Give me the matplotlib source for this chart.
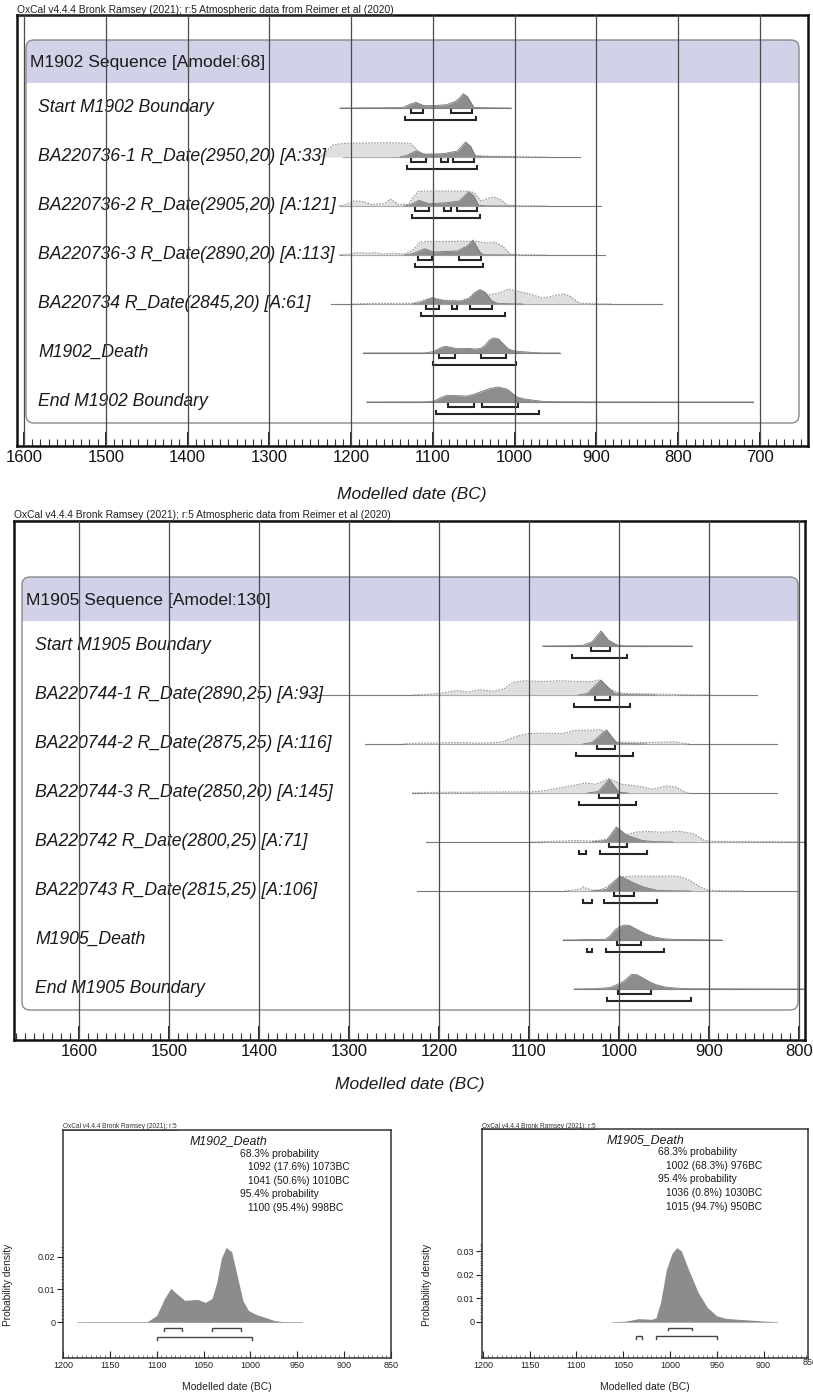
import matplotlib.pyplot as plt
import matplotlib.transforms as mtransforms
from matplotlib.patches import FancyBboxPatch, Rectangle
from matplotlib.lines import Line2D
from matplotlib.ticker import MultipleLocator, FixedLocator
import numpy as np

plt.rcParams['font.family'] = ['Liberation Sans', 'DejaVu Sans']

# ---------------- data ----------------
oxcal_head = 'OxCal v4.4.4 Bronk Ramsey (2021); r:5 Atmospheric data from Reimer et al (2020)'
oxcal_small = 'OxCal v4.4.4 Bronk Ramsey (2021); r:5'

title1902 = 'M1902 Sequence [Amodel:68]'
labels1902 = ['Start M1902 Boundary',
              'BA220736-1 R_Date(2950,20) [A:33]',
              'BA220736-2 R_Date(2905,20) [A:121]',
              'BA220736-3 R_Date(2890,20) [A:113]',
              'BA220734 R_Date(2845,20) [A:61]',
              'M1902_Death',
              'End M1902 Boundary']

title1905 = 'M1905 Sequence [Amodel:130]'
labels1905 = ['Start M1905 Boundary',
              'BA220744-1 R_Date(2890,25) [A:93]',
              'BA220744-2 R_Date(2875,25) [A:116]',
              'BA220744-3 R_Date(2850,20) [A:145]',
              'BA220742 R_Date(2800,25) [A:71]',
              'BA220743 R_Date(2815,25) [A:106]',
              'M1905_Death',
              'End M1905 Boundary']

# M1902_Death / M1905_Death densities (year BC, probability density)
death1902_yr = [1185, 1110, 1100, 1092, 1085, 1078, 1070, 1062, 1056, 1048, 1041, 1036, 1031,
                1026, 1020, 1014, 1008, 1002, 993, 985, 975, 965, 945]
death1902_p = [0, 0.0001, 0.002, 0.007, 0.0103, 0.0085, 0.0066, 0.0068, 0.0069, 0.006, 0.0072,
               0.012, 0.0195, 0.0228, 0.0215, 0.014, 0.0065, 0.0035, 0.0022, 0.0015, 0.0005,
               0.0001, 0]
death1905_yr = [1062, 1048, 1040, 1034, 1028, 1020, 1015, 1010, 1004, 998, 993, 988, 980, 970,
                960, 950, 940, 930, 915, 900, 886]
death1905_p = [0, 0.0002, 0.0008, 0.0013, 0.0012, 0.001, 0.0017, 0.0085, 0.022, 0.029, 0.0315,
               0.0302, 0.022, 0.0125, 0.006, 0.0025, 0.0014, 0.0011, 0.0007, 0.0003, 0]

stats1902 = ['68.3% probability', '1092 (17.6%) 1073BC', '1041 (50.6%) 1010BC',
             '95.4% probability', '1100 (95.4%) 998BC']
stats1905 = ['68.3% probability', '1002 (68.3%) 976BC', '95.4% probability',
             '1036 (0.8%) 1030BC', '1015 (94.7%) 950BC']

# relative heights (peak = 1)
range1902 = [(1214, 1005), (1210, 920), (1213, 895), (1213, 889), (1225, 820), (1185, 945), (1181, 708)]
light1902 = [
    None,
    [(1240, 0), (1232, 0.3), (1222, 0.8), (1210, 0.9), (1190, 0.93), (1160, 0.95), (1135, 0.93),
     (1127, 0.9), (1119, 0.45), (1112, 0.2), (1095, 0.17), (1075, 0.2), (1060, 0.3), (1048, 0.1),
     (1030, 0.05), (1000, 0.03), (960, 0)],
    [(1215, 0), (1205, 0.1), (1197, 0.33), (1185, 0.3), (1175, 0.1), (1160, 0.15), (1152, 0.45),
     (1142, 0.1), (1130, 0.1), (1124, 0.6), (1118, 0.97), (1100, 1.0), (1080, 1.0), (1060, 1.0),
     (1050, 0.9), (1041, 0.33), (1033, 0.5), (1026, 0.6), (1018, 0.45), (1009, 0.05), (990, 0.02),
     (960, 0)],
    [(1215, 0), (1200, 0.08), (1193, 0.16), (1180, 0.12), (1170, 0.15), (1160, 0.06), (1150, 0.12),
     (1135, 0.06), (1125, 0.3), (1115, 0.87), (1100, 0.9), (1080, 0.9), (1060, 0.92), (1045, 0.9),
     (1034, 0.8), (1025, 0.87), (1015, 0.6), (1005, 0.05), (990, 0.02), (960, 0)],
    [(1200, 0), (1170, 0.04), (1125, 0.05), (1115, 0.2), (1101, 0.42), (1087, 0.25), (1066, 0.22),
     (1056, 0.4), (1048, 0.8), (1042, 0.95), (1034, 0.6), (1026, 0.65), (1017, 0.78), (1008, 1.0),
     (997, 0.85), (981, 0.67), (966, 0.38), (952, 0.55), (940, 0.67), (932, 0.5), (921, 0.06),
     (905, 0.02), (880, 0)],
    None,
    None,
]
dark1902 = [
    [(1214, 0), (1150, 0.02), (1137, 0.03), (1128, 0.25), (1121, 0.38), (1111, 0.16), (1099, 0.16),
     (1083, 0.22), (1072, 0.45), (1066, 0.75), (1063, 0.95), (1058, 0.78), (1050, 0.05), (1041, 0.02),
     (1005, 0)],
    [(1140, 0), (1132, 0.1), (1121, 0.4), (1110, 0.18), (1087, 0.22), (1070, 0.4), (1060, 1.0),
     (1054, 0.73), (1048, 0.07), (1040, 0.02), (1000, 0)],
    [(1135, 0), (1127, 0.1), (1117, 0.38), (1105, 0.15), (1083, 0.22), (1068, 0.33), (1056, 0.95),
     (1050, 0.67), (1044, 0.05), (1035, 0.01), (1000, 0)],
    [(1135, 0), (1124, 0.1), (1110, 0.42), (1099, 0.2), (1070, 0.27), (1058, 0.6), (1051, 1.0),
     (1042, 0.15), (1038, 0.02), (1000, 0)],
    [(1125, 0), (1115, 0.1), (1101, 0.4), (1087, 0.22), (1066, 0.18), (1056, 0.33), (1048, 0.78),
     (1042, 0.95), (1036, 0.78), (1028, 0.22), (1021, 0.05), (1010, 0.02), (990, 0)],
    list(zip(death1902_yr, np.array(death1902_p) / max(death1902_p))),
    [(1181, 0), (1110, 0.01), (1099, 0.05), (1090, 0.3), (1083, 0.45), (1070, 0.42), (1058, 0.4),
     (1048, 0.55), (1038, 0.75), (1030, 0.9), (1020, 1.0), (1009, 0.85), (997, 0.33), (988, 0.2),
     (976, 0.11), (965, 0.04), (950, 0.02), (900, 0.005), (708, 0)],
]
hpd68_1902 = [[(1127, 1112), (1078, 1052)], [(1127, 1109), (1090, 1081), (1075, 1050)],
              [(1122, 1105), (1086, 1078), (1070, 1046)], [(1118, 1101), (1068, 1041)],
              [(1109, 1092), (1077, 1071), (1055, 1028)], [(1092, 1073), (1041, 1010)],
              [(1082, 1050), (1040, 996)]]
hpd95_1902 = [[(1134, 1047)], [(1132, 1046)], [(1126, 1042)], [(1122, 1039)], [(1114, 1012)],
              [(1100, 998)], [(1096, 970)]]

range1905 = [(1085, 919), (1350, 847), (1282, 825), (1230, 825), (1215, 795), (1225, 800),
             (1062, 886), (1050, 780)]
light1905 = [
    None,
    [(1230, 0), (1210, 0.05), (1195, 0.15), (1180, 0.3), (1168, 0.2), (1155, 0.35), (1140, 0.25),
     (1128, 0.4), (1118, 0.85), (1105, 0.95), (1085, 0.9), (1065, 0.95), (1045, 0.9), (1030, 0.9),
     (1022, 1.0), (1010, 0.4), (1000, 0.15), (990, 0.1), (970, 0.08), (950, 0.05), (930, 0.02), (900, 0)],
    [(1240, 0), (1228, 0.05), (1200, 0.07), (1180, 0.1), (1160, 0.06), (1140, 0.08), (1129, 0.15),
     (1115, 0.5), (1100, 0.7), (1080, 0.72), (1062, 0.7), (1050, 0.9), (1035, 0.92), (1020, 0.95),
     (1010, 0.5), (1003, 0.13), (990, 0.12), (970, 0.1), (950, 0.12), (939, 0.15), (930, 0.06), (922, 0)],
    [(1230, 0), (1200, 0.05), (1170, 0.05), (1140, 0.07), (1110, 0.07), (1090, 0.1), (1078, 0.2),
     (1065, 0.35), (1054, 0.47), (1037, 0.67), (1026, 0.58), (1011, 0.95), (997, 0.58), (980, 0.47),
     (962, 0.25), (948, 0.47), (937, 0.4), (928, 0.1), (922, 0)],
    [(1100, 0), (1065, 0.05), (1050, 0.1), (1030, 0.07), (1020, 0.12), (1005, 0.3), (992, 0.5),
     (980, 0.67), (968, 0.7), (951, 0.65), (933, 0.72), (917, 0.55), (905, 0.1), (895, 0.04),
     (860, 0.03), (820, 0.02), (795, 0.01)],
    [(1060, 0), (1045, 0.1), (1040, 0.27), (1030, 0.05), (1020, 0.08), (1013, 0.3), (999, 0.93),
     (984, 1.0), (960, 0.98), (940, 1.0), (932, 0.95), (921, 0.7), (910, 0.27), (901, 0.05),
     (890, 0.02), (860, 0)],
    None,
    None,
]
dark1905 = [
    [(1085, 0), (1050, 0.02), (1040, 0.05), (1030, 0.28), (1020, 1.0), (1012, 0.4), (1004, 0.13),
     (1000, 0.03), (990, 0.01), (919, 0)],
    [(1045, 0), (1035, 0.1), (1027, 0.6), (1020, 1.0), (1012, 0.5), (1005, 0.1), (995, 0.03),
     (980, 0.01), (960, 0)],
    [(1040, 0), (1030, 0.1), (1014, 0.95), (1003, 0.11), (995, 0.03), (970, 0)],
    [(1035, 0), (1023, 0.1), (1011, 0.92), (1000, 0.05), (990, 0)],
    [(1030, 0), (1014, 0.1), (1003, 1.0), (991, 0.45), (974, 0.1), (960, 0.02), (940, 0)],
    [(1030, 0), (1014, 0.1), (999, 1.0), (984, 0.55), (973, 0.27), (958, 0.05), (945, 0.02), (920, 0)],
    list(zip(death1905_yr, np.array(death1905_p) / max(death1905_p))),
    [(1050, 0), (1025, 0.02), (1010, 0.1), (1002, 0.3), (995, 0.5), (986, 0.98), (980, 0.95),
     (973, 0.72), (965, 0.45), (958, 0.27), (950, 0.15), (943, 0.09), (930, 0.04), (920, 0.02),
     (880, 0.01), (780, 0)],
]
hpd68_1905 = [[(1031, 1010)], [(1027, 1010)], [(1024, 1005)], [(1022, 1001)], [(1011, 991)],
              [(1006, 983)], [(1002, 976)], [(1001, 964)]]
hpd95_1905 = [[(1052, 991)], [(1050, 988)], [(1048, 985)], [(1045, 981)],
              [(1044, 1037), (1021, 969)], [(1040, 1030), (1017, 958)],
              [(1036, 1030), (1015, 950)], [(1013, 920)]]

# ---------------- figure ----------------
W, H = 813, 1395
fig = plt.figure(figsize=(W / 100, H / 100), dpi=100)
ROW = 49.0  # px per row


def px_axes(x0, y0, x1, y1):
    return fig.add_axes([x0 / W, 1 - y1 / H, (x1 - x0) / W, (y1 - y0) / H])


def fx(x):
    return x / W


def fy(y):
    return 1 - y / H


def underline(t):
    fig.canvas.draw()
    bb = t.get_window_extent()
    fig.add_artist(Line2D([bb.x0, bb.x1], [bb.y0 + 0.5, bb.y0 + 0.5], color='#333',
                          lw=0.5, transform=mtransforms.IdentityTransform()))


def bracket(ax, lo, hi, y, t, **kw):
    ax.plot([lo, lo, hi, hi], [y - t, y, y, y - t], solid_joinstyle='miter', **kw)


def seq_panel(frame, box, band_bottom, base0, xlim, ticks, title, labels, label_x,
              ranges, light, dark, h68, h95):
    x0, y0, x1, y1 = frame
    ax = px_axes(x0, y0, x1, y1)
    ax.patch.set_alpha(0)
    ax.set_xlim(*xlim)
    ax.set_ylim((y1 - base0) / ROW, (y0 - base0) / ROW)
    ax.set_yticks([])
    for s in ax.spines.values():
        s.set_linewidth(1.8)
        s.set_color('#111')
    ax.xaxis.set_major_locator(FixedLocator(ticks))
    ax.xaxis.set_minor_locator(MultipleLocator(10))
    ax.tick_params(axis='x', which='major', direction='in', length=10, width=1.3,
                   labelsize=12, pad=3, colors='#111')
    ax.tick_params(axis='x', which='minor', direction='in', length=5, width=0.8, colors='#333')
    for t in ticks:
        ax.axvline(t, color='#4a4a4a', lw=0.9, zorder=6)

    bx0, by0, bx1, by1 = box
    inch = fig.dpi_scale_trans
    # lavender header band
    ax.add_patch(FancyBboxPatch((bx0 / 100, (H - band_bottom) / 100), (bx1 - bx0) / 100,
                                (band_bottom - by0) / 100, boxstyle='round,pad=0,rounding_size=0.08',
                                transform=inch, facecolor='#d1d1e8', edgecolor='none', zorder=1))
    ax.add_patch(Rectangle((bx0 / 100, (H - band_bottom) / 100), (bx1 - bx0) / 100, 0.12,
                           transform=inch, facecolor='#d1d1e8', edgecolor='none', zorder=1))
    ax.add_patch(FancyBboxPatch((bx0 / 100, (H - by1) / 100), (bx1 - bx0) / 100, (by1 - by0) / 100,
                                boxstyle='round,pad=0,rounding_size=0.08', transform=inch,
                                facecolor='none', edgecolor='#8a8a8a', lw=1.0, zorder=1.5))
    ax.text(fx(bx0 + 4), fy((by0 + band_bottom) / 2 + 1), title, transform=fig.transFigure,
            fontsize=12.6, color='#1a1a1a', va='center', ha='left', zorder=4)

    hs = 15 / ROW
    blend = mtransforms.blended_transform_factory(fig.transFigure, ax.transData)
    for i, lab in enumerate(labels):
        ax.text(fx(label_x), i - 0.5 / ROW, lab, transform=blend, fontsize=12.7, style='italic',
                color='#1a1a1a', va='center', ha='left', zorder=4)
        ax.plot(ranges[i], [i, i], color='#7a7a7a', lw=0.8, zorder=2)
        if light[i] is not None:
            yr, h = zip(*light[i])
            top = i - np.array(h) * hs
            ax.fill_between(yr, i, top, color='#dfdfdf', lw=0, zorder=2.2)
            ax.plot(yr, top, color='#939393', lw=0.8, ls=(0, (1.5, 1.2)), zorder=2.3)
        yr, h = zip(*dark[i])
        top = i - np.array(h) * hs
        ax.fill_between(yr, i, top, color='#8d8d8d', lw=0, zorder=3)
        ax.plot(yr, top, color='#777', lw=0.6, zorder=3.1)
        for lo, hi in h68[i]:
            bracket(ax, lo, hi, i + 5 / ROW, 3 / ROW, color='#262626', lw=1.5, zorder=3.5)
        for lo, hi in h95[i]:
            bracket(ax, lo, hi, i + 12 / ROW, 3 / ROW, color='#262626', lw=1.5, zorder=3.5)
    return ax


# top sequence panel
seq_panel((17, 15, 808, 446), (26, 40, 799, 423), 83, 108,
          (1600 + 7 / 0.817, 700 - 48 / 0.817), list(range(700, 1601, 100)),
          title1902, labels1902, 38, range1902, light1902, dark1902, hpd68_1902, hpd95_1902)
t = fig.text(fx(17), fy(10), oxcal_head, fontsize=7.4, color='#222', va='center', ha='left')
underline(t)
fig.text(fx(412), fy(494), 'Modelled date (BC)', fontsize=12.5, style='italic', color='#1a1a1a',
         ha='center', va='center')

# second sequence panel
seq_panel((14, 521, 805, 1040), (22, 577, 798, 1010), 621, 646,
          (1000 + 605 / 0.9, 1000 - 186 / 0.9), list(range(800, 1601, 100)),
          title1905, labels1905, 35, range1905, light1905, dark1905, hpd68_1905, hpd95_1905)
t = fig.text(fx(14), fy(515), oxcal_head, fontsize=7.4, color='#222', va='center', ha='left')
underline(t)
fig.text(fx(410), fy(1085), 'Modelled date (BC)', fontsize=12.5, style='italic', color='#1a1a1a',
         ha='center', va='center')


# small probability panels
def prob_panel(frame, xlim, ylim, yticks, yrs, dens, h68, h95, y68, y95, ymax, name, stats,
               title_xy, stat_x, stat_y):
    x0, y0, x1, y1 = frame
    ax = px_axes(x0, y0, x1, y1)
    ax.set_xlim(*xlim)
    ax.set_ylim(*ylim)
    for s in ax.spines.values():
        s.set_linewidth(1.1)
        s.set_color('#333')
    ax.fill_between(yrs, 0, dens, color='#8c8c8c', lw=0, zorder=2)
    ax.plot([yrs[0], yrs[-1]], [0, 0], color='#aaa', lw=0.6, zorder=1.5)
    tick_h = 0.0008 * (ylim[1] - ylim[0]) / 0.07
    for lo, hi in h68:
        bracket(ax, lo, hi, y68, tick_h, color='#444', lw=1.0)
    for lo, hi in h95:
        bracket(ax, lo, hi, y95, tick_h, color='#444', lw=1.0)
    ax.xaxis.set_major_locator(MultipleLocator(50))
    ax.xaxis.set_minor_locator(MultipleLocator(5))
    ax.tick_params(axis='x', which='major', direction='in', length=5, width=0.8, labelsize=6.5,
                   pad=2.5, colors='#222')
    ax.tick_params(axis='x', which='minor', direction='in', length=2.5, width=0.5, colors='#444')
    ax.set_yticks(yticks)
    ax.set_yticklabels(['0'] + ['%g' % v for v in yticks[1:]])
    ax.yaxis.set_minor_locator(FixedLocator(np.arange(0, ymax + 1e-9, 0.001)))
    ax.tick_params(axis='y', which='major', direction='out', length=4, width=0.8, labelsize=6.5,
                   pad=1.5, colors='#222')
    ax.tick_params(axis='y', which='minor', direction='out', length=1.8, width=0.5, colors='#444')
    ax.set_ylabel('Probability density', fontsize=7.3, color='#222')
    ax.yaxis.set_label_coords(-50 / (x1 - x0), 0.32)
    fig.text(fx((x0 + x1) / 2), fy(1387), 'Modelled date (BC)', fontsize=7.5, color='#222',
             ha='center', va='center')
    ax.text(fx(title_xy[0]), fy(title_xy[1]), name, transform=fig.transFigure, fontsize=8.9,
            style='italic', color='#1a1a1a', ha='center', va='center')
    for j, line in enumerate(stats):
        indent = 0 if 'probability' in line else 8
        ax.text(fx(stat_x + indent), fy(stat_y[j]), line, transform=fig.transFigure, fontsize=7.4,
                color='#1a1a1a', ha='left', va='center')
    t = fig.text(fx(x0), fy(y0 - 3), oxcal_small, fontsize=4.7, color='#333', ha='left', va='center')
    underline(t)
    return ax


prob_panel((63, 1130, 391, 1358), (1200, 850), (-0.011, 0.0587), [0, 0.01, 0.02],
           death1902_yr, death1902_p, hpd68_1902[5], hpd95_1902[5], -0.0018, -0.0046, 0.023,
           'M1902_Death', stats1902, (228, 1141), 240, [1154, 1167, 1181, 1194, 1208])
axR = prob_panel((482, 1129, 808, 1358), (1201, 852.5), (-0.01545, 0.082), [0, 0.01, 0.02, 0.03],
                 death1905_yr, death1905_p, hpd68_1905[6], hpd95_1905[6], -0.0026, -0.0062, 0.033,
                 'M1905_Death', stats1905, (645, 1140), 658, [1152, 1166, 1179, 1193, 1207])
# the 850 label sits just beyond the right frame and is cut by the image edge
axR.text(850, -0.0155, '850', transform=axR.transData, fontsize=6.5, color='#222',
         ha='center', va='top', clip_on=False)

fig.savefig('out.png', dpi=100)
